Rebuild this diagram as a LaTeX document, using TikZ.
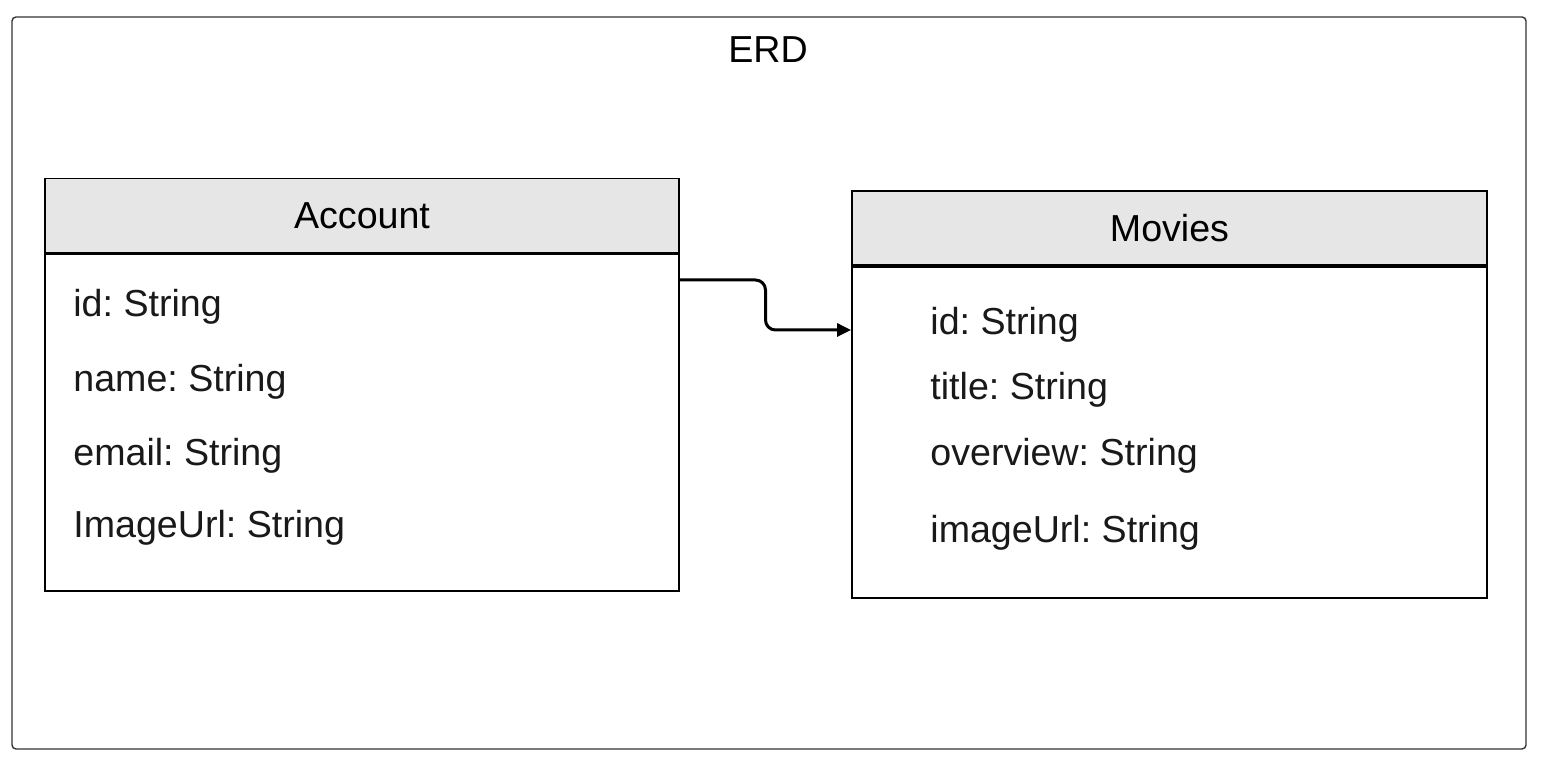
\documentclass[tikz,border=0pt]{standalone}
\usepackage{fontspec}
\setmainfont{Liberation Sans}
\frenchspacing
\usetikzlibrary{positioning,calc,arrows.meta}
\definecolor{headfill}{HTML}{E6E6E6}
\definecolor{framegray}{HTML}{333333}
\tikzset{
  frame/.style={draw=framegray, line width=0.7pt, rounded corners=2pt, inner sep=0pt},
  enthead/.style={draw=black, line width=0.9pt, fill=headfill, inner sep=0pt},
  entbody/.style={draw=black, line width=0.9pt, fill=white, inner sep=0pt},
  attr/.style={anchor=west, inner sep=0pt, text=black!90},
  relarrow/.style={line width=1.5pt, rounded corners=5pt, -{Triangle[length=7pt,width=6.5pt]}}
}
\begin{document}
\begin{tikzpicture}[x=0.5pt, y=-0.5pt, font=\fontsize{18.8}{22}\selectfont]
  \useasboundingbox (0,0) rectangle (1544,758);
  % outer frame and title
  \node[frame, minimum width=757pt, minimum height=366pt] (erd) at (769,383) {};
  \node (erdtitle) at (768,50) {ERD};

  % Account entity
  \node[enthead, minimum width=317pt, minimum height=37pt] (acchead) at (362,215.5) {Account};
  \node[entbody, minimum width=317pt, minimum height=168.5pt, anchor=north] (accbody) at (acchead.south) {};
  \node[attr] (accid) at (73,307) {id: String};
  \node[attr] (accname) at (73,382) {name: String};
  \node[attr] (accemail) at (73,456) {email: String};
  \node[attr] (accimage) at (73,528) {ImageUrl: String};

  % Movies entity
  \node[enthead, minimum width=317.5pt, minimum height=37pt] (movhead) at (1169.5,228) {Movies};
  \node[entbody, minimum width=317.5pt, minimum height=165.5pt, anchor=north] (movbody) at (movhead.south) {};
  \node[attr] (movid) at (930,325) {id: String};
  \node[attr] (movtitle) at (930,390) {title: String};
  \node[attr] (movover) at (930,456) {overview: String};
  \node[attr] (movimage) at (930,533) {imageUrl: String};

  % relation
  \coordinate (accsrc) at (accbody.east |- 0,280);
  \coordinate (movdst) at (movbody.west |- 0,330);
  \draw[relarrow] (accsrc) -| ($(accsrc)!.5!(movdst)$) |- (movdst);
\end{tikzpicture}
\end{document}
